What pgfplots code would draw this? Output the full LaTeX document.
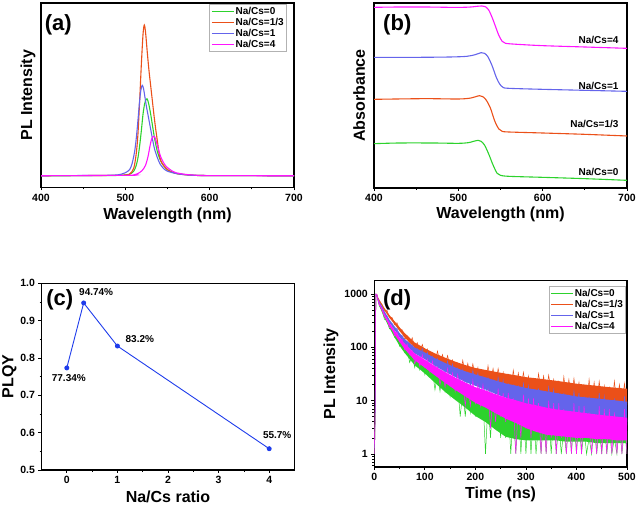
\documentclass[border=0pt]{standalone}
\usepackage{pgfplots}
\pgfplotsset{compat=1.18}
\usepackage{fontspec}
\setmainfont{Liberation Sans}
\definecolor{colG}{RGB}{45,210,45}
\definecolor{colO}{RGB}{235,80,25}
\definecolor{colB}{RGB}{100,100,235}
\definecolor{colM}{RGB}{255,20,255}
\definecolor{colC}{RGB}{30,60,235}
\newcommand{\bfs}[1]{\fontsize{#1}{#1}\selectfont\bfseries}
\pgfplotsset{
 base/.style={scale only axis, tick align=outside, tick pos=left,
   axis line style={line width=1.1pt}, major tick length=3pt, minor tick length=2pt,
   tick style={black, line width=0.8pt},
   tick label style={font=\bfs{10.5}},
   /pgf/number format/assume math mode=true,
   /pgf/number format/1000 sep={},
   label style={font=\bfs{16}}},
 leg/.style={legend cell align=left,
   legend style={draw=gray!60, line width=0.5pt, font=\bfs{10},
     inner sep=1.5pt, row sep=0pt, nodes={inner sep=1.2pt, font=\bfs{10}}}},
}
\begin{document}
\begin{tikzpicture}
\useasboundingbox (0,0) rectangle (639pt,505pt);
% ---------------- (a)
\begin{axis}[base, leg, at={(41pt,317.5pt)}, anchor=south west, width=253pt, height=184.5pt,
  xmin=400, xmax=700, ymin=-0.078, ymax=1.146,
  xtick={400,500,600,700}, minor xtick={450,550,650}, ytick=\empty,
  xlabel={Wavelength (nm)}, ylabel={PL Intensity},
  xlabel style={at={(axis description cs:0.5,-0.149)},anchor=center},
  ylabel style={at={(axis description cs:-0.051,0.5)},anchor=center},
  legend image code/.code={\draw[#1, line width=1.3pt] (0pt,0pt)--(22pt,0pt);},
  legend style={at={(0.971,0.995)},anchor=north east}]
\addplot[colG, line width=1.1pt, smooth] coordinates {(400,0)(480,0.001)(500,0.005)(505,0.01)(510,0.03)(513,0.07)(515,0.12)(517,0.2)(519,0.3)(521,0.41)(523,0.48)(525,0.51)(526,0.51)(528,0.47)(530,0.41)(532,0.34)(534,0.27)(536,0.21)(538,0.16)(541,0.11)(545,0.07)(550,0.04)(555,0.025)(560,0.015)(570,0.008)(580,0.004)(600,0.001)(700,0)};
\addlegendentry{Na/Cs=0}
\addplot[colO, line width=1.1pt, smooth] coordinates {(400,0)(480,0.002)(500,0.005)(505,0.01)(510,0.05)(513,0.15)(515,0.28)(517,0.5)(519,0.74)(521,0.94)(522.5,1.0)(524,0.95)(526,0.82)(528,0.7)(530,0.6)(532,0.5)(534,0.4)(536,0.31)(538,0.23)(540,0.15)(542,0.1)(545,0.07)(550,0.04)(555,0.025)(560,0.015)(570,0.007)(580,0.003)(600,0.001)(700,0)};
\addlegendentry{Na/Cs=1/3}
\addplot[colB, line width=1.1pt, smooth] coordinates {(400,0)(480,0.003)(495,0.01)(500,0.02)(505,0.04)(508,0.08)(511,0.16)(513,0.25)(515,0.37)(517,0.5)(518.5,0.57)(520,0.6)(521.5,0.58)(523,0.53)(525,0.46)(527,0.4)(529,0.34)(531,0.28)(533,0.22)(535,0.17)(538,0.12)(541,0.08)(545,0.05)(550,0.03)(560,0.015)(570,0.007)(580,0.003)(600,0.001)(700,0)};
\addlegendentry{Na/Cs=1}
\addplot[colM, line width=1.1pt, smooth] coordinates {(400,0)(505,0.003)(510,0.006)(515,0.015)(520,0.035)(524,0.07)(527,0.13)(529,0.19)(531,0.24)(533,0.26)(534.5,0.26)(536,0.24)(538,0.2)(540,0.16)(542,0.125)(545,0.09)(548,0.065)(552,0.045)(556,0.03)(560,0.02)(570,0.01)(580,0.005)(600,0.001)(700,0)};
\addlegendentry{Na/Cs=4}
\node[font=\bfs{22}] at (axis cs:420.5,1.0) {(a)};
\end{axis}
% ---------------- (b)
\begin{axis}[base, at={(374pt,317pt)}, anchor=south west, width=253pt, height=185pt,
  xmin=400, xmax=700, ymin=-2, ymax=553,
  xtick={400,500,600,700}, minor xtick={450,550,650}, ytick=\empty,
  xlabel={Wavelength (nm)}, ylabel={Absorbance},
  xlabel style={at={(axis description cs:0.5,-0.145)},anchor=center},
  ylabel style={at={(axis description cs:-0.059,0.5)},anchor=center}]
\addplot[colG, line width=1.1pt, smooth] coordinates {(400,131)(430,133)(470,133)(500,132)(512,134)(518,138)(523.5,141)(527,138)(531,127)(536,100)(541,68)(546,42)(550,36)(560,33)(600,30)(650,26)(700,21)};
\addplot[colO, line width=1.1pt, smooth] coordinates {(400,264)(460,266)(500,265)(515,268)(525,275)(529,272)(533,262)(538,238)(543,200)(548,175)(552,168)(560,166)(600,163)(650,159)(700,154)};
\addplot[colB, line width=1.1pt, smooth] coordinates {(400,390)(450,390)(490,391)(510,393)(520,398)(527,404)(531,402)(535,392)(540,365)(545,330)(549,310)(553,300)(560,297)(600,294)(650,291)(700,288)};
\addplot[colM, line width=1.1pt, smooth] coordinates {(400,540)(430,541)(460,541)(490,540)(505,540)(515,541)(522,543)(528,544)(532,542)(536,532)(540,510)(544,483)(548,456)(552,438)(556,432)(570,429)(600,425)(650,421)(700,417)};
\node[font=\bfs{22}] at (axis cs:427.6,487) {(b)};
\node[font=\bfs{10}, anchor=east] at (axis cs:694,442) {Na/Cs=4};
\node[font=\bfs{10}, anchor=east] at (axis cs:694,305) {Na/Cs=1};
\node[font=\bfs{10}, anchor=east] at (axis cs:694,189) {Na/Cs=1/3};
\node[font=\bfs{10}, anchor=east] at (axis cs:694,46) {Na/Cs=0};
\end{axis}
% ---------------- (c)
\begin{axis}[base, at={(41.5pt,35pt)}, anchor=south west, width=253pt, height=186.7pt,
  xmin=-0.5, xmax=4.5, ymin=0.5, ymax=1.0,
  xtick={0,1,2,3,4}, minor xtick={0.5,1.5,2.5,3.5},
  ytick={0.5,0.6,0.7,0.8,0.9,1.0}, minor ytick={0.55,0.65,0.75,0.85,0.95},
  yticklabel style={/pgf/number format/fixed, /pgf/number format/fixed zerofill, /pgf/number format/precision=1},
  xlabel={Na/Cs ratio}, ylabel={PLQY},
  xlabel style={at={(axis description cs:0.5,-0.143)},anchor=center},
  ylabel style={at={(axis description cs:-0.127,0.5)},anchor=center}]
\addplot[colC, line width=0.9pt, mark=*, mark size=2pt] coordinates {(0,0.7734)(0.3333,0.9474)(1,0.832)(4,0.557)};
\node[font=\bfs{10}] at (axis cs:0.58,0.977) {94.74\%};
\node[font=\bfs{10}] at (axis cs:1.443,0.851) {83.2\%};
\node[font=\bfs{10}] at (axis cs:0.04,0.746) {77.34\%};
\node[font=\bfs{10}] at (axis cs:4.158,0.593) {55.7\%};
\node[font=\bfs{22}] at (axis cs:-0.138,0.955) {(c)};
\end{axis}
% ---------------- (d)
\begin{axis}[base, leg, at={(374.3pt,38pt)}, anchor=south west, width=252.7pt, height=186.3pt,
  ymode=log, log ticks with fixed point,
  xmin=0, xmax=500, ymin=0.57, ymax=1780,
  xtick={0,100,200,300,400,500}, minor xtick={50,150,250,350,450},
  ytick={1,10,100,1000},
  minor ytick={0.6,0.7,0.8,0.9,2,3,4,5,6,7,8,9,20,30,40,50,60,70,80,90,200,300,400,500,600,700,800,900},
  xlabel={Time (ns)}, ylabel={PL Intensity},
  xlabel style={at={(axis description cs:0.5,-0.147)},anchor=center},
  ylabel style={at={(axis description cs:-0.171,0.5)},anchor=center},
  legend image code/.code={\draw[#1, line width=1.3pt] (0pt,0pt)--(22pt,0pt);},
  legend style={at={(0.996,0.972)},anchor=north east}]
% green: core band, then noisy trace
\addplot[fill=colG, draw=none, forget plot] coordinates {(3,1000)(10,650)(20,403)(30,269)(40,185.6)(50,133)(60,101.4)(80,63.9)(100,47.6)(120,34.35)(140,25.4)(160,19.65)(180,15.57)(200,12.24)(220,10.42)(240,8.56)(260,7.17)(280,6.27)(300,5.35)(320,5.08)(340,4.8)(360,4.12)(380,3.84)(400,3.4)(420,3.12)(440,2.97)(460,2.89)(480,2.82)(500,2.67)(500,1.6)(480,1.6)(460,1.6)(440,1.6)(420,1.7)(400,1.7)(380,1.7)(360,1.8)(340,1.8)(320,1.8)(300,1.8)(280,1.9)(260,2.1)(240,2.84)(220,3.98)(200,5.16)(180,7.43)(160,10.35)(140,14.6)(120,21.65)(100,32.4)(80,46.1)(60,78.6)(50,107)(40,154.4)(30,231)(20,357)(10,590)};
\addplot[colG, line width=0.5pt] coordinates {(0,1)(1,2)(2,10)(3,1000)(5,972)(10,595)(15,513)(20,337)(25,321)(30,222)(35,242)(40,154)(45,167)(50,105)(55,128)(60,80)(65,92)(70,52)(75,69)(80,42)(85,68)(90,38)(95,56)(100,31)(105,52)(110,28)(115,39)(120,16)(125,31)(130,15)(135,34)(140,15)(145,27)(150,12)(155,26)(160,11)(165,20)(170,5)(175,15)(180,5)(185,19)(190,6)(195,15)(200,5)(205,15)(210,5)(215,12)(220,1)(225,9)(230,2)(235,13)(240,3)(245,10)(250,2)(255,10)(260,2)(265,8)(270,1)(275,6)(280,1)(285,9)(290,1)(295,7)(300,1)(305,7)(310,1)(315,6)(320,1)(325,4)(330,1)(335,7)(340,1)(345,6)(350,1)(355,6)(360,1)(365,4)(370,1)(375,3)(380,1)(385,6)(390,1)(395,5)(400,1)(405,5)(410,1)(415,3)(420,1)(425,2)(430,1)(435,4)(440,1)(445,3)(450,1)(455,4)(460,1)(465,3)(470,1)(475,2)(480,1)(485,4)(490,1)(495,3)(500,1)};
\addlegendentry{Na/Cs=0}
% orange
\addplot[fill=colO, draw=none, forget plot] coordinates {(3,1000)(10,783)(20,547)(30,403)(40,310)(50,238)(60,186)(80,123)(100,96)(120,77)(140,64)(160,54)(180,46.5)(200,41)(220,37.7)(240,34.7)(260,32.1)(280,29.9)(300,27.6)(320,26.3)(340,24.9)(360,23.6)(380,22.2)(400,20.8)(420,19.9)(440,19)(460,18.1)(480,17.4)(500,16.75)(500,8.25)(480,8.8)(460,9.3)(440,9.85)(420,10.5)(400,11.2)(380,12.2)(360,13.3)(340,14.3)(320,15.3)(300,16.4)(280,18.1)(260,19.9)(240,21.9)(220,24.3)(200,27)(180,31.5)(160,38)(140,46)(120,57)(100,74)(80,97)(60,154)(50,202)(40,270)(30,357)(20,493)(10,717)};
\addplot[colO, line width=0.5pt] coordinates {(0,1)(1,2)(2,9)(3,1000)(5,996)(10,690)(15,642)(20,479)(25,500)(30,357)(35,366)(40,266)(45,290)(50,205)(55,214)(60,141)(65,162)(70,114)(75,151)(80,97)(85,122)(90,81)(95,113)(100,76)(105,93)(110,57)(115,79)(120,52)(125,85)(130,52)(135,73)(140,45)(145,70)(150,43)(155,58)(160,31)(165,50)(170,30)(175,57)(180,32)(185,50)(190,28)(195,49)(200,28)(205,42)(210,20)(215,37)(220,21)(225,45)(230,23)(235,40)(240,21)(245,40)(250,22)(255,34)(260,15)(265,30)(270,16)(275,37)(280,18)(285,33)(290,16)(295,34)(300,17)(305,29)(310,11)(315,25)(320,13)(325,32)(330,15)(335,29)(340,13)(345,30)(350,15)(355,25)(360,9)(365,22)(370,10)(375,28)(380,12)(385,25)(390,11)(395,26)(400,12)(405,22)(410,7)(415,19)(420,8)(425,25)(430,10)(435,22)(440,9)(445,23)(450,10)(455,19)(460,6)(465,17)(470,7)(475,23)(480,9)(485,20)(490,8)(495,21)(500,9)};
\addlegendentry{Na/Cs=1/3}
% blue
\addplot[fill=colB, draw=none, forget plot] coordinates {(3,1000)(10,732)(20,475)(30,331)(40,248)(50,186)(60,144)(80,99)(100,80)(120,62.8)(140,50.9)(160,42.1)(180,35.5)(200,31)(220,27.4)(240,23.8)(260,21)(280,19.2)(300,17.3)(320,16.15)(340,15)(360,13.9)(380,13)(400,12)(420,11.5)(440,11)(460,10.5)(480,10.05)(500,9.56)(500,3.44)(480,3.75)(460,4.06)(440,4.4)(420,4.7)(400,5)(380,5.64)(360,6.3)(340,7)(320,7.85)(300,8.7)(280,10)(260,11.4)(240,13.4)(220,16.2)(200,19)(180,22.5)(160,27.9)(140,35.1)(120,45.2)(100,60)(80,77)(60,116)(50,154)(40,212)(30,289)(20,425)(10,668)};
\addplot[colB, line width=0.5pt] coordinates {(0,1)(1,2)(2,7)(3,1000)(5,985)(10,631)(15,588)(20,408)(25,397)(30,268)(35,281)(40,207)(45,229)(50,158)(55,170)(60,100)(65,129)(70,85)(75,110)(80,65)(85,93)(90,67)(95,94)(100,62)(105,81)(110,41)(115,67)(120,39)(125,61)(130,32)(135,52)(140,33)(145,55)(150,33)(155,48)(160,20)(165,40)(170,21)(175,38)(180,16)(185,33)(190,19)(195,37)(200,20)(205,33)(210,11)(215,28)(220,12)(225,27)(230,9)(235,24)(240,12)(245,27)(250,13)(255,24)(260,6)(265,21)(270,8)(275,20)(280,5)(285,18)(290,8)(295,21)(300,10)(305,19)(310,3)(315,16)(320,5)(325,17)(330,3)(335,15)(340,6)(345,18)(350,8)(355,16)(360,3)(365,14)(370,4)(375,14)(380,3)(385,12)(390,5)(395,15)(400,6)(405,14)(410,3)(415,12)(420,3)(425,12)(430,3)(435,11)(440,4)(445,14)(450,5)(455,12)(460,3)(465,10)(470,3)(475,11)(480,3)(485,9)(490,3)(495,12)(500,4)};
\addlegendentry{Na/Cs=1}
% magenta
\addplot[fill=colM, draw=none, forget plot] coordinates {(3,1000)(10,681)(20,424)(30,290)(40,206.5)(50,154)(60,117.3)(80,76.8)(100,58.5)(120,44.3)(140,34.35)(160,27.07)(180,21.95)(200,17.9)(220,15.57)(240,13.2)(260,11.4)(280,10.18)(300,8.94)(320,8.19)(340,7.43)(360,6.86)(380,6.5)(400,6.14)(420,5.82)(440,5.51)(460,5.24)(480,5.02)(500,4.8)(500,1.8)(480,1.8)(460,1.9)(440,1.9)(420,2)(400,2)(380,2.1)(360,2.2)(340,2.3)(320,2.61)(300,3.06)(280,3.82)(260,4.6)(240,5.8)(220,7.43)(200,9.1)(180,12.05)(160,15.93)(140,21.65)(120,29.7)(100,41.5)(80,57.2)(60,92.7)(50,126)(40,173.5)(30,250)(20,376)(10,619)};
\addplot[colM, line width=0.5pt] coordinates {(0,1)(1,3)(2,20)(3,1000)(5,981)(10,614)(15,554)(20,380)(25,352)(30,234)(35,238)(40,165)(45,196)(50,126)(55,143)(60,91)(65,115)(70,73)(75,87)(80,49)(85,69)(90,44)(95,73)(100,42)(105,60)(110,34)(115,55)(120,31)(125,43)(130,20)(135,35)(140,18)(145,40)(150,19)(155,33)(160,15)(165,31)(170,15)(175,24)(180,8)(185,20)(190,8)(195,24)(200,9)(205,20)(210,8)(215,20)(220,8)(225,16)(230,3)(235,13)(240,4)(245,17)(250,5)(255,14)(260,4)(265,14)(270,5)(275,11)(280,1)(285,9)(290,2)(295,13)(300,3)(305,11)(310,2)(315,11)(320,3)(325,9)(330,1)(335,7)(340,1)(345,10)(350,2)(355,9)(360,1)(365,9)(370,2)(375,7)(380,1)(385,6)(390,1)(395,9)(400,1)(405,8)(410,1)(415,8)(420,2)(425,6)(430,1)(435,5)(440,1)(445,8)(450,1)(455,7)(460,1)(465,7)(470,1)(475,6)(480,1)(485,4)(490,1)(495,7)(500,1)};
\addlegendentry{Na/Cs=4}
\node[font=\bfs{22}] at (axis cs:45,795) {(d)};
\end{axis}
\end{tikzpicture}
\end{document}
